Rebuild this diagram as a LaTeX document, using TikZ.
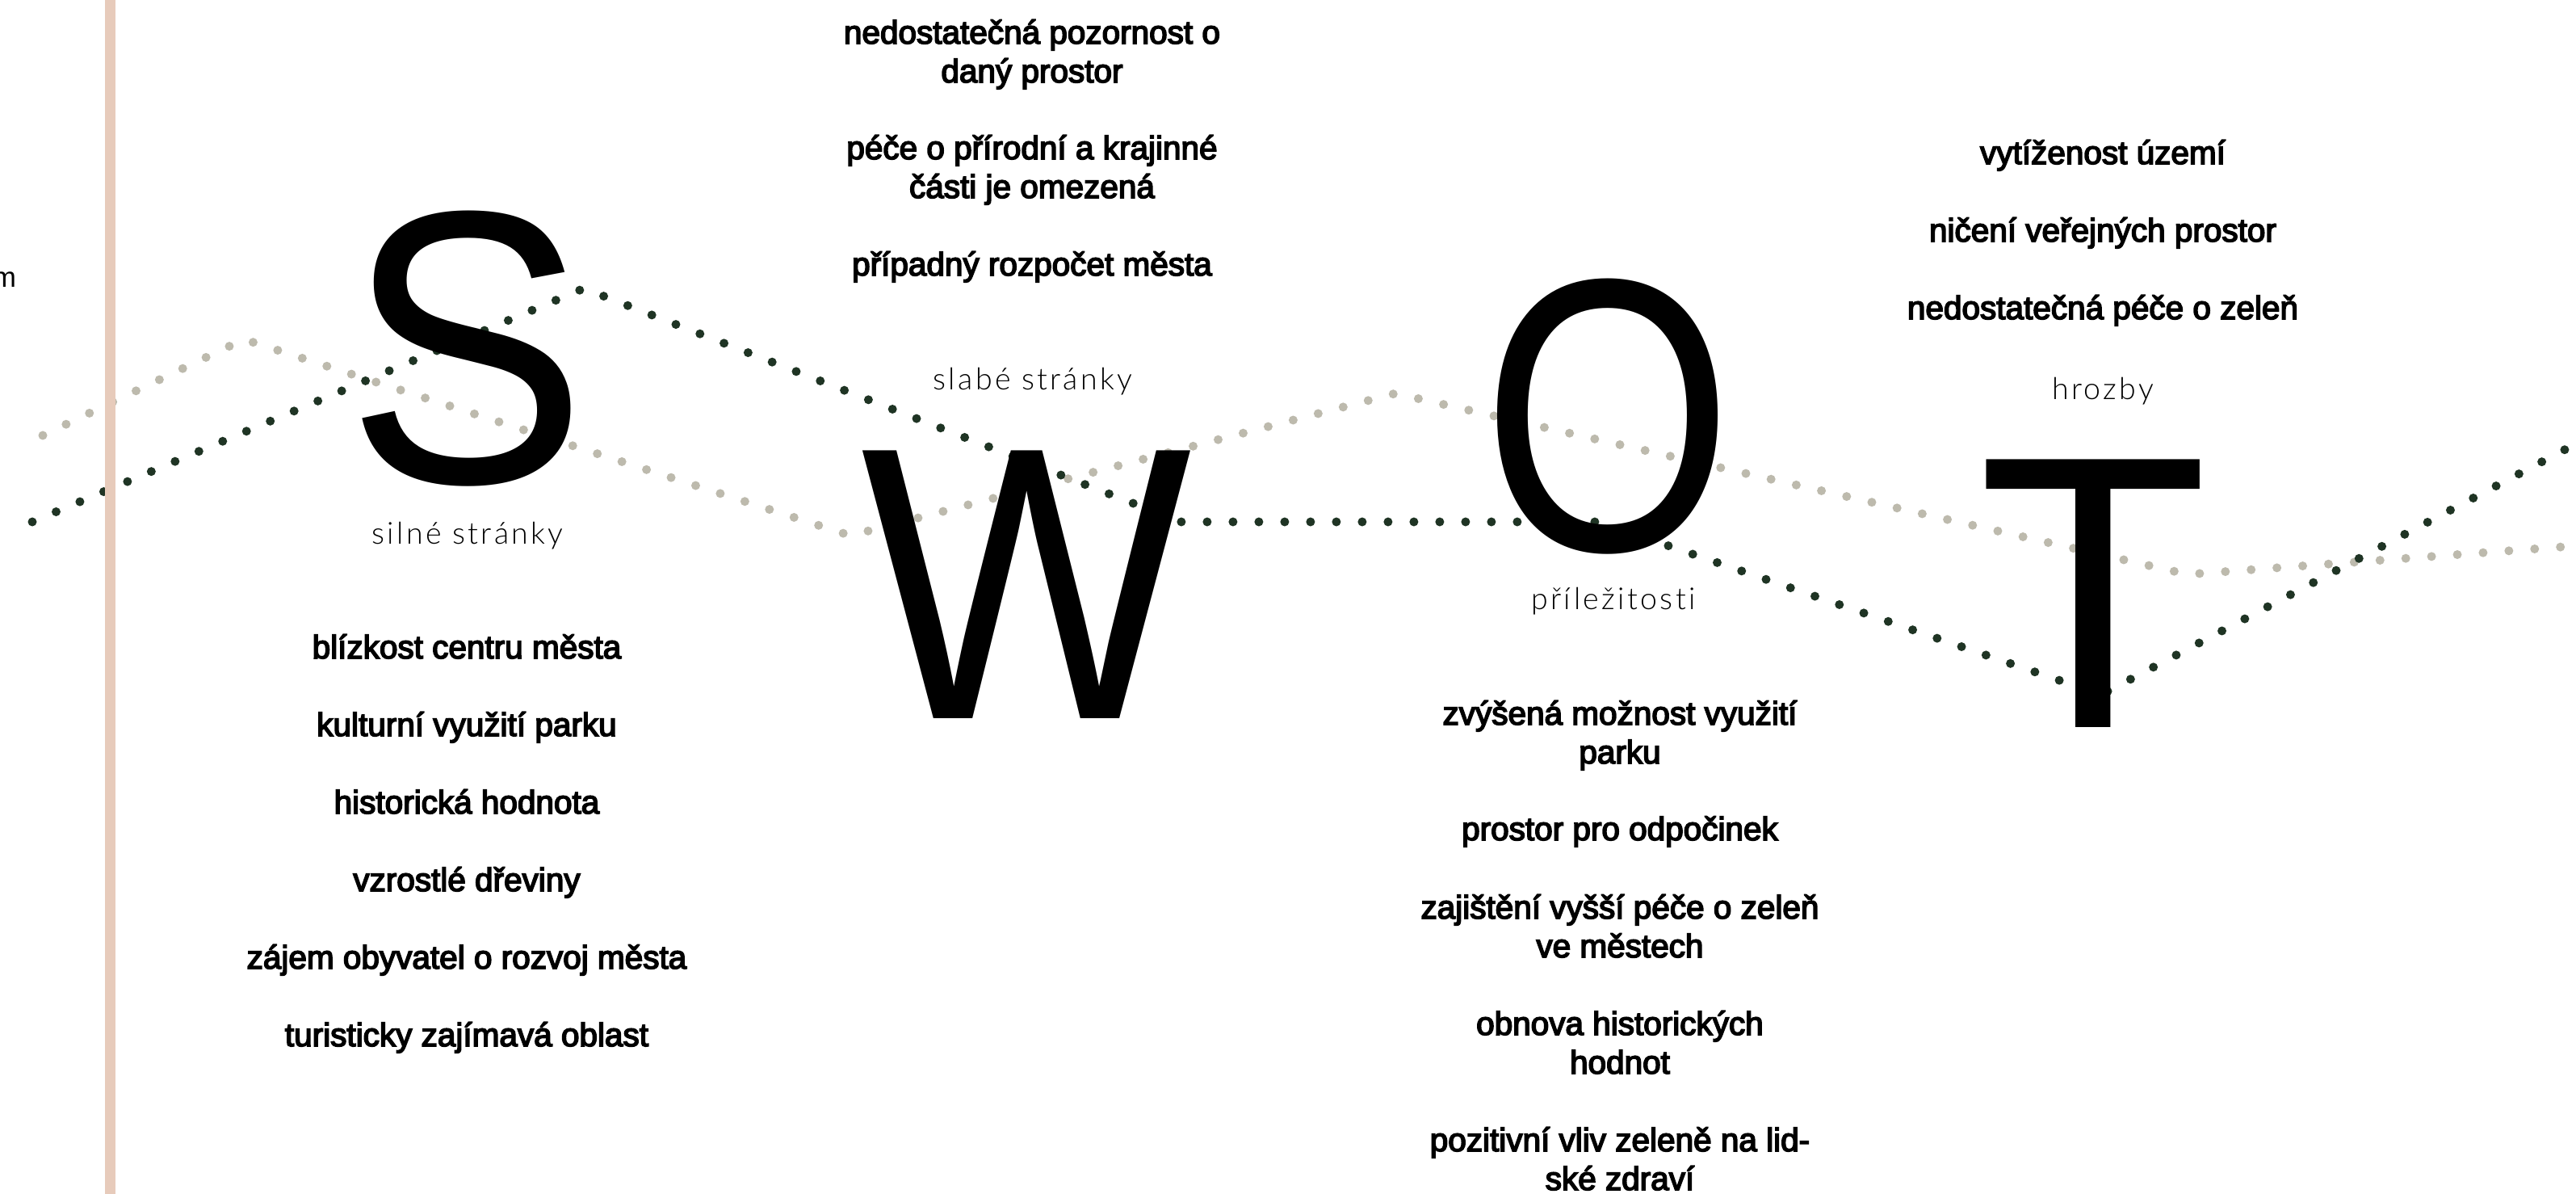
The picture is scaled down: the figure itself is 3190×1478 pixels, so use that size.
\documentclass[tikz,border=0pt]{standalone}
\usepackage{fontspec}
\usepackage{graphicx}
\setmainfont{Liberation Sans}
\newfontfamily\bodyfont{Liberation Sans}[FakeBold=4]
\newfontfamily\bigfont{Liberation Sans}
\IfFontExistsTF{Lato Light}
  {\newfontfamily\labelfont{Lato Light}[LetterSpace=9, Ligatures=NoCommon]}
  {\newfontfamily\labelfont{Liberation Sans}[LetterSpace=8]}
\definecolor{barbeige}{HTML}{E7CBBB}
\definecolor{dotgray}{HTML}{BDBAAD}
\definecolor{dotdark}{HTML}{1F3424}
\newcommand{\mktwo}[2]{\begin{tabular}[t]{@{}c@{}}#1\\#2\end{tabular}}
\tikzset{
  bigletter/.style={font=\bigfont\fontsize{96.4}{100}\selectfont, inner sep=0pt, anchor=base, text=black, text depth=0pt},
  item/.style={font=\bodyfont\fontsize{8.1}{9.6}\selectfont, inner sep=0pt, anchor=base, text=black},
  lbl/.style={font=\labelfont\fontsize{7.5}{8.5}\selectfont, inner sep=0pt, anchor=base, text=black},
  dotline/.style={line width=2.2pt, line cap=round, dash pattern=on 0pt off 6.4pt},
  graydots/.style={dotline, draw=dotgray},
  darkdots/.style={dotline, draw=dotdark}
}
\begin{document}
\begin{tikzpicture}[x=0.2pt, y=-0.2pt]
\useasboundingbox (0,0) rectangle (3190,1478);
\fill[white] (0,0) rectangle (3190,1478);

% path vertices
\coordinate (g0) at (53,539);
\coordinate (g1) at (302,420);
\coordinate (g2) at (1053,663);
\coordinate (g3) at (1728,487);
\coordinate (g4) at (2709,711);
\coordinate (g5) at (3200,675);
\coordinate (d0) at (40,646);
\coordinate (d1) at (723,357);
\coordinate (d2) at (1462,646);
\coordinate (d3) at (1980,646);
\coordinate (d4) at (2602,860);
\coordinate (d5) at (3200,544);

\draw[graydots] (g0) -- (g1) -- (g2) -- (g3) -- (g4) -- (g5);
\draw[darkdots] (d0) -- (d1) -- (d2) -- (d3) -- (d4) -- (d5);

% vertical bar
\fill[barbeige] (130,0) rectangle (143,1478);

% cut-off text at left edge
\node[font=\fontsize{7}{8}\selectfont, inner sep=0pt, anchor=base east] (cut) at (21,356) {m};

% big letters
\node[bigletter] (S) at (578,597) {\scalebox{0.93}[1]{S}};
\node[bigletter] (W) at (1271,889) {\scalebox{0.90}[1]{W}};
\node[bigletter] (O) at (1991,681) {\scalebox{0.83}[1]{O}};
\node[bigletter] (T) at (2592,900) {\scalebox{0.97}[1]{T}};

% labels
\node[lbl] (lS) at (579,673) {silné stránky};
\node[lbl] (lW) at (1279,483) {slabé stránky};
\node[lbl] (lO) at (1998,755) {příležitosti};
\node[lbl] (lT) at (2604,495) {hrozby};

% strengths
\node[item] (s1) at (578,815) {blízkost centru města};
\node[item] (s2) at (578,911) {kulturní využití parku};
\node[item] (s3) at (578,1007) {historická hodnota};
\node[item] (s4) at (578,1103) {vzrostlé dřeviny};
\node[item] (s5) at (578,1199) {zájem obyvatel o rozvoj města};
\node[item] (s6) at (578,1295) {turisticky zajímavá oblast};

% weaknesses
\node[item] (w1) at (1278,54) {\mktwo{nedostatečná pozornost o}{daný prostor}};
\node[item] (w2) at (1278,197) {\mktwo{péče o přírodní a krajinné}{části je omezená}};
\node[item] (w3) at (1278,341) {případný rozpočet města};

% opportunities
\node[item] (o1) at (2006,897) {\mktwo{zvýšená možnost využití}{parku}};
\node[item] (o2) at (2006,1040) {prostor pro odpočinek};
\node[item] (o3) at (2006,1137) {\mktwo{zajištění vyšší péče o zeleň}{ve městech}};
\node[item] (o4) at (2006,1281) {\mktwo{obnova historických}{hodnot}};
\node[item] (o5) at (2006,1425) {\mktwo{pozitivní vliv zeleně na lid-}{ské zdraví}};

% threats
\node[item] (t1) at (2604,203) {vytíženost území};
\node[item] (t2) at (2604,299) {ničení veřejných prostor};
\node[item] (t3) at (2604,395) {nedostatečná péče o zeleň};
\end{tikzpicture}
\end{document}
